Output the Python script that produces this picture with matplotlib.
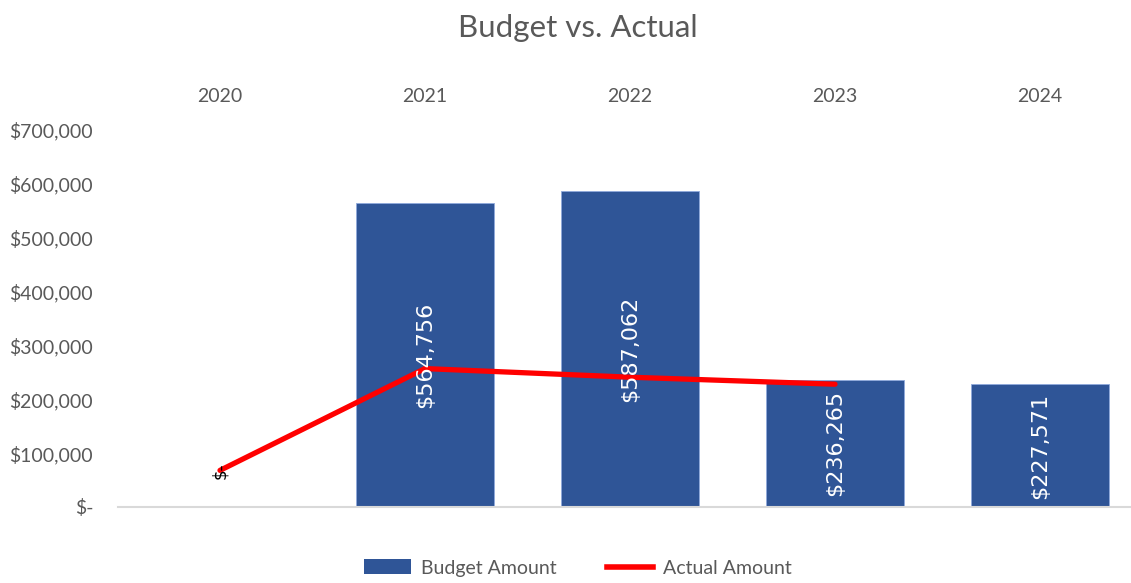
import matplotlib.pyplot as plt
from matplotlib.ticker import FuncFormatter
from matplotlib.lines import Line2D
from matplotlib.patches import Patch

years = ["2020", "2021", "2022", "2023", "2024"]
budget = [0, 564756, 587062, 236265, 227571]
actual = [68000, 257000, 241000, 228000]  # no actual yet for 2024

BAR_COLOR = "#2F5597"
LINE_COLOR = "#FF0000"
TEXT_COLOR = "#595959"
FONT = ["Lato", "DejaVu Sans"]


def money(v, _pos=None):
    if v == 0:
        return "$-"
    return f"${v:,.0f}"


fig = plt.figure(figsize=(11.31, 5.83), dpi=100)
W, H = 1131, 583
ax = fig.add_axes([117.5 / W, (H - 507) / H, 1025 / W, 377 / H])

x = range(len(years))
ax.bar(x, budget, width=0.67, color=BAR_COLOR, edgecolor="#8FAADC",
       linewidth=0.6, zorder=2)
ax.plot(range(len(actual)), actual, color=LINE_COLOR, linewidth=3.8,
        solid_capstyle="round", zorder=3)

# value labels inside the bars
for i, v in enumerate(budget):
    if v == 0:
        ax.text(i, actual[i], money(v), rotation=90, ha="center", va="center",
                color="black", fontsize=12, family="DejaVu Sans", zorder=4)
    else:
        ax.text(i, v / 2, money(v), rotation=90, ha="center", va="center",
                color="white", fontsize=16, family="DejaVu Sans", zorder=4)

ax.set_xlim(-0.5, len(years) - 0.5)
ax.set_ylim(0, 700000)
ax.set_yticks(range(0, 700001, 100000))
ax.yaxis.set_major_formatter(FuncFormatter(money))
ax.xaxis.tick_top()
ax.set_xticks(list(x))
ax.set_xticklabels(years)
ax.tick_params(axis="both", length=0, colors=TEXT_COLOR, labelsize=14)
ax.tick_params(axis="y", pad=17.5)
ax.tick_params(axis="x", pad=18)
for lab in ax.get_xticklabels() + ax.get_yticklabels():
    lab.set_family(FONT)
for s in ["top", "right", "left"]:
    ax.spines[s].set_visible(False)
ax.spines["bottom"].set_color("#D9D9D9")
ax.spines["bottom"].set_linewidth(1.5)

fig.text(578 / W, 1 - 28 / H, "Budget vs. Actual", ha="center", va="center",
         fontsize=22.5, color=TEXT_COLOR, family=FONT)

handles = [Patch(facecolor=BAR_COLOR, label="Budget Amount"),
           Line2D([0], [0], color=LINE_COLOR, linewidth=4, label="Actual Amount")]
fig.legend(handles=handles, loc="center", bbox_to_anchor=(578 / W, 1 - 568 / H),
           ncol=2, frameon=False, prop={"family": FONT, "size": 14},
           labelcolor=TEXT_COLOR, handlelength=2.4, handleheight=0.8,
           columnspacing=2.6, handletextpad=0.5)

fig.savefig("out.png", dpi=100, facecolor="white")
